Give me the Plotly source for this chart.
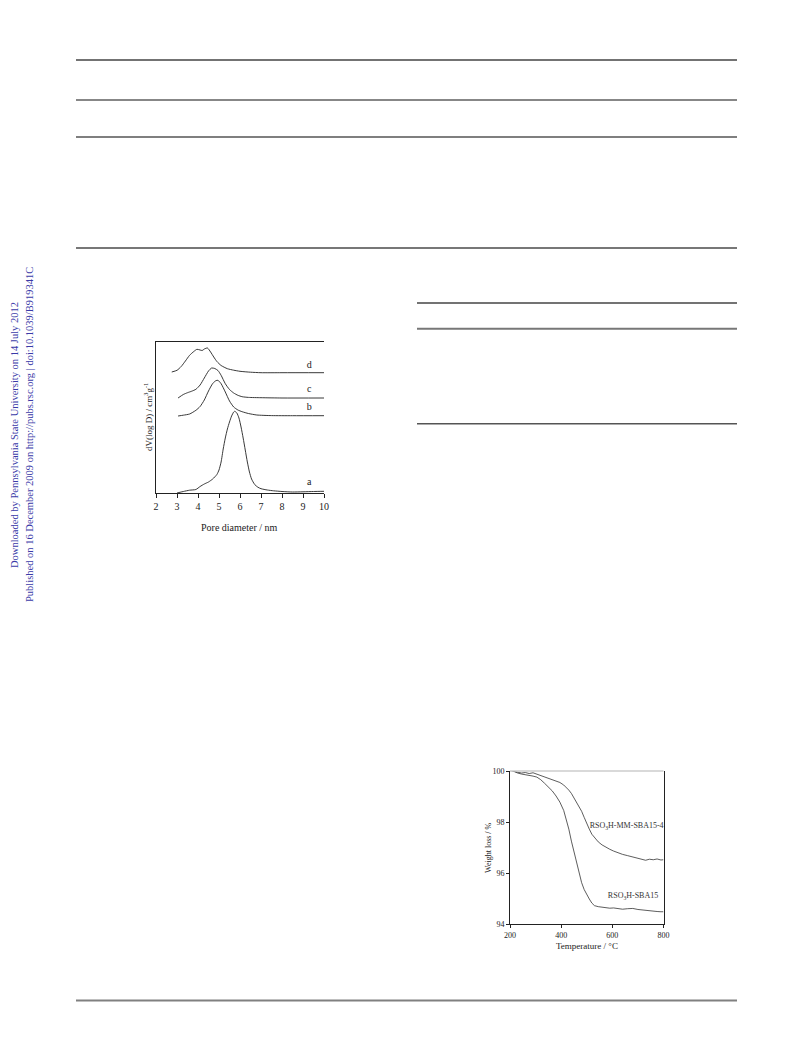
import plotly.graph_objects as go

W, H = 793, 1039
OFF = 8  # page body margin in the browser

# ---------- Chart 1: pore size distribution (arbitrary units) ----------
pore_a_x = [3.0, 3.3, 3.6, 3.9, 4.1, 4.3, 4.5, 4.7, 4.9, 5.0, 5.1, 5.2, 5.3, 5.4, 5.5, 5.6, 5.7, 5.75, 5.85, 5.95, 6.05, 6.15, 6.25, 6.35, 6.45, 6.55, 6.7, 6.85, 7.0, 7.3, 7.6, 8.0, 8.5, 9.0, 9.5, 10.0]
pore_a_y = [0.0, 1.5, 2.8, 3.5, 6.5, 9.0, 11.0, 14.0, 18.5, 23.0, 31.0, 44.0, 55.0, 64.0, 71.0, 77.0, 81.0, 81.7, 80.0, 75.0, 66.0, 55.0, 43.0, 31.0, 21.0, 14.0, 8.5, 5.8, 4.3, 3.0, 2.2, 1.5, 1.0, 1.2, 1.5, 1.7]

pore_b_x = [3.05, 3.3, 3.6, 3.9, 4.1, 4.3, 4.5, 4.7, 4.85, 4.95, 5.1, 5.3, 5.5, 5.7, 5.9, 6.1, 6.4, 6.8, 7.5, 8.5, 10.0]
pore_b_y = [77.0, 77.8, 79.0, 82.7, 86.5, 93.0, 102.0, 109.5, 112.3, 112.7, 109.3, 101.0, 92.0, 86.0, 83.0, 81.3, 79.5, 78.0, 77.4, 77.3, 77.3]

pore_c_x = [3.05, 3.3, 3.5, 3.7, 3.9, 4.1, 4.3, 4.5, 4.65, 4.8, 4.95, 5.1, 5.3, 5.5, 5.7, 5.9, 6.1, 6.4, 7.0, 8.0, 10.0]
pore_c_y = [95.0, 98.5, 100.3, 101.8, 103.7, 108.0, 115.0, 122.0, 125.0, 124.5, 122.5, 117.7, 109.3, 103.5, 100.0, 97.7, 96.3, 95.6, 95.3, 95.0, 95.0]

pore_d_x = [2.75, 3.0, 3.2, 3.4, 3.6, 3.8, 3.95, 4.1, 4.2, 4.3, 4.45, 4.6, 4.75, 4.9, 5.1, 5.4, 5.7, 6.0, 6.5, 7.0, 8.0, 10.0]
pore_d_y = [121.0, 122.7, 126.5, 132.0, 137.7, 141.5, 143.7, 143.0, 142.5, 144.0, 145.0, 141.0, 136.0, 131.5, 127.5, 124.3, 122.8, 121.7, 120.8, 120.3, 120.3, 120.3]

pore_labels = ["a", "b", "c", "d"]
pore_label_x = [9.3, 9.3, 9.3, 9.3]
pore_label_y = [11.0, 86.0, 104.0, 127.7]

pore_ticks = [2, 3, 4, 5, 6, 7, 8, 9, 10]

# ---------- Chart 2: TGA ----------
tga_x = [200, 215, 230, 245, 260, 275, 290, 305, 320, 335, 350, 365, 380, 395, 410, 420, 430, 440, 450, 460, 470, 480, 490, 500, 510, 520, 530, 545, 560, 575, 590, 605, 620, 640, 660, 680, 700, 715, 730, 745, 760, 775, 790, 800]
tga_mm = [100.02, 99.98, 99.95, 99.92, 99.94, 99.90, 99.93, 99.88, 99.82, 99.76, 99.72, 99.66, 99.62, 99.55, 99.45, 99.36, 99.25, 99.12, 98.95, 98.78, 98.62, 98.42, 98.18, 97.92, 97.72, 97.52, 97.38, 97.22, 97.10, 97.00, 96.93, 96.86, 96.80, 96.73, 96.68, 96.63, 96.58, 96.52, 96.50, 96.54, 96.52, 96.55, 96.51, 96.52]
tga_sba = [100.05, 99.97, 99.92, 99.88, 99.86, 99.82, 99.80, 99.76, 99.66, 99.52, 99.38, 99.22, 99.02, 98.78, 98.45, 98.12, 97.72, 97.25, 96.82, 96.38, 95.98, 95.62, 95.35, 95.15, 94.98, 94.82, 94.72, 94.68, 94.66, 94.64, 94.62, 94.63, 94.60, 94.58, 94.60, 94.61, 94.57, 94.55, 94.53, 94.52, 94.51, 94.49, 94.48, 94.48]
tga_names = ["RSO<sub>3</sub>H-MM-SBA15-4", "RSO<sub>3</sub>H-SBA15"]
tga_label_x = [656, 681]
tga_label_y = [97.85, 95.1]
tga_yticks = [94, 96, 98, 100]
tga_xticks = [200, 400, 600, 800]

SERIF = "Liberation Serif"

def px_x(p):
    return (p - OFF) / W

def px_y(p):
    return 1 - (p - OFF) / H

fig = go.Figure()

for xs, ys in [(pore_a_x, pore_a_y), (pore_b_x, pore_b_y), (pore_c_x, pore_c_y), (pore_d_x, pore_d_y)]:
    fig.add_trace(go.Scatter(x=xs, y=ys, mode="lines", line=dict(color="#222222", width=0.9, shape="spline", smoothing=0.6),
                             xaxis="x", yaxis="y", showlegend=False, hoverinfo="skip"))
fig.add_trace(go.Scatter(x=pore_label_x, y=pore_label_y, mode="text", text=pore_labels,
                         textfont=dict(family=SERIF, size=10, color="#222222"), xaxis="x", yaxis="y",
                         showlegend=False, hoverinfo="skip"))

for ys in [tga_mm, tga_sba]:
    fig.add_trace(go.Scatter(x=tga_x, y=ys, mode="lines", line=dict(color="#333333", width=0.8),
                             xaxis="x2", yaxis="y2", showlegend=False, hoverinfo="skip"))
fig.add_trace(go.Scatter(x=tga_label_x, y=tga_label_y, mode="text", text=tga_names, textposition="middle center",
                         textfont=dict(family=SERIF, size=8, color="#333333"), xaxis="x2", yaxis="y2",
                         showlegend=False, hoverinfo="skip", cliponaxis=False))

ax_common = dict(showgrid=False, zeroline=False, linecolor="#222222", linewidth=1, automargin=False,
                 tickfont=dict(family=SERIF, size=10, color="#222222"))
small_font = dict(family=SERIF, size=8, color="#222222")

fig.update_layout(
    width=W, height=H, margin=dict(l=0, r=0, t=0, b=0, pad=0, autoexpand=False),
    paper_bgcolor="white", plot_bgcolor="white",
    xaxis=dict(domain=[px_x(156), px_x(324)], range=[2, 10], tickvals=pore_ticks, ticks="outside",
               ticklen=4, tickcolor="#222222", showline=True, mirror=True, anchor="y", **ax_common),
    yaxis=dict(domain=[px_y(493), px_y(342)], range=[0, 151], showticklabels=False, ticks="",
               showline=True, anchor="x", **ax_common),
    xaxis2=dict(domain=[px_x(510), px_x(663.5)], range=[200, 800], tickvals=tga_xticks, ticks="outside",
                ticklen=3, tickcolor="#222222", showline=True, anchor="y2",
                **{**ax_common, "tickfont": small_font}),
    yaxis2=dict(domain=[px_y(924), px_y(771)], range=[94, 100], tickvals=tga_yticks, ticks="outside",
                ticklen=3, tickcolor="#222222", showline=True, mirror=True, anchor="x2",
                **{**ax_common, "tickfont": small_font}),
)

# top frame line of TGA plot (light gray)
fig.add_shape(type="line", xref="x2 domain", yref="y2 domain", x0=0, x1=1, y0=1, y1=1,
              line=dict(color="#cccccc", width=1.5))

# page rules
rules = [
    (76, 737, 60, "#444444", 1.5),
    (76, 737, 100, "#111111", 1.2),
    (76, 737, 137, "#555555", 1.5),
    (76, 737, 248, "#777777", 2),
    (417, 737, 303, "#444444", 1.5),
    (417, 737, 328.7, "#777777", 2),
    (417, 737, 423.7, "#555555", 1.5),
    (76, 737, 1000.5, "#808080", 2),
]
for x0, x1, y, c, w in rules:
    fig.add_shape(type="line", xref="paper", yref="paper", x0=px_x(x0), x1=px_x(x1), y0=px_y(y), y1=px_y(y),
                  line=dict(color=c, width=w))

annots = [
    dict(text="dV(log D) / cm<sup>3</sup>g<sup>-1</sup>", x=px_x(148), y=px_y(417), textangle=-90, size=9),
    dict(text="Pore diameter / nm", x=px_x(240), y=px_y(527), textangle=0, size=10),
    dict(text="Weight loss / %", x=px_x(488), y=px_y(848), textangle=-90, size=8),
    dict(text="Temperature / °C", x=px_x(587), y=px_y(946), textangle=0, size=9),
]
for a in annots:
    fig.add_annotation(text=a["text"], x=a["x"], y=a["y"], xref="paper", yref="paper", showarrow=False,
                       textangle=a["textangle"], xanchor="center", yanchor="middle",
                       font=dict(family=SERIF, size=a["size"], color="#222222"))

side = [
    ("Downloaded by Pennsylvania State University on 14 July 2012", 15),
    ("Published on 16 December 2009 on http://pubs.rsc.org | doi:10.1039/B919341C", 30),
]
for t, xp in side:
    fig.add_annotation(text=t, x=px_x(xp), y=px_y(435), xref="paper", yref="paper", showarrow=False,
                       textangle=-90, xanchor="center", yanchor="middle",
                       font=dict(family=SERIF, size=10.5, color="#3a3aa8"))

fig.write_html("out.html")
